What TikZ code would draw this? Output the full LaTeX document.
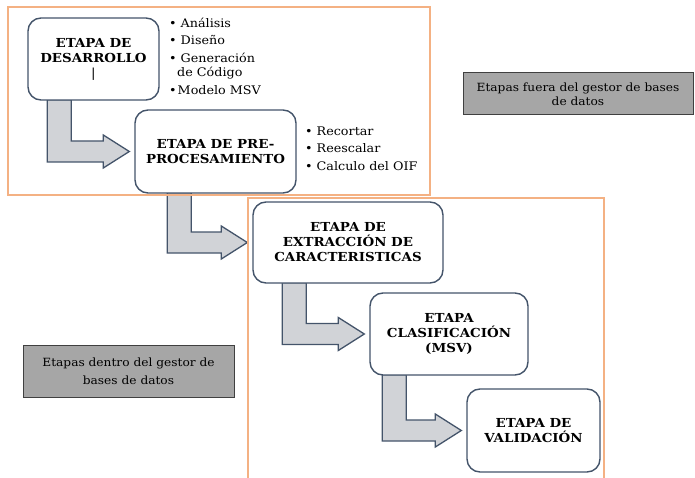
\documentclass[tikz,border=0pt]{standalone}
\usepackage{fontspec}
\setmainfont{DejaVu Serif}[FakeStretch=1.08]
\usetikzlibrary{calc,backgrounds}
\definecolor{frameor}{HTML}{F4B183}
\definecolor{boxln}{HTML}{44546A}
\definecolor{arrfill}{HTML}{D1D3D7}
\definecolor{grayfill}{HTML}{A6A6A6}
\definecolor{grayln}{HTML}{404040}
\tikzset{
  stage/.style={draw=boxln, line width=1.4pt, rounded corners=13pt, fill=white,
    font=\bfseries\fontsize{12.4}{15}\selectfont, align=center, inner sep=0pt},
  frame/.style={draw=frameor, line width=1.6pt},
  arrblock/.style={draw=boxln, line width=1.3pt, fill=arrfill, line join=miter},
  note/.style={draw=grayln, line width=1pt, fill=grayfill, align=center, inner sep=0pt},
  item/.style={anchor=west, inner sep=0pt, font=\fontsize{11.8}{13}\selectfont},
}
\newcommand\bentarrow[3]{%
  \draw[arrblock] let \p1=($(#1.south west)+(#3,0)$), \p2=($(#2.west)+(-5,0)$) in
  (\x1,\y1+1pt) -- (\x1+24pt,\y1+1pt) -- (\x1+24pt,\y2+10.5pt) -- (\x2-26pt,\y2+10.5pt)
  -- (\x2-26pt,\y2+16.5pt) -- (\x2,\y2) -- (\x2-26pt,\y2-16.5pt) -- (\x2-26pt,\y2-10.5pt)
  -- (\x1,\y2-10.5pt) -- cycle;}
\begin{document}
\begin{tikzpicture}[x=1pt,y=-1pt]
\useasboundingbox (0,0) rectangle (695,478);
% boxes
\node[stage, minimum width=131pt, minimum height=82pt] (b1) at (93.5,59) {ETAPA DE\\DESARROLLO\\\textnormal{|}};
\node[stage, minimum width=161pt, minimum height=83pt] (b2) at (215.5,151.5) {ETAPA DE PRE-\\PROCESAMIENTO};
\node[stage, minimum width=190pt, minimum height=81pt] (b3) at (348,242.5) {ETAPA DE\\EXTRACCIÓN DE\\CARACTERISTICAS};
\node[stage, minimum width=158pt, minimum height=82pt] (b4) at (449,334) {ETAPA\\CLASIFICACIÓN\\(MSV)};
\node[stage, minimum width=133pt, minimum height=83pt] (b5) at (533.5,430.5) {ETAPA DE\\VALIDACIÓN};
% bent arrows and frames behind the boxes
\begin{scope}[on background layer]
\bentarrow{b1}{b2}{20}
\bentarrow{b2}{b3}{33}
\bentarrow{b3}{b4}{30}
\bentarrow{b4}{b5}{13}
\draw[frame] (8,7) rectangle (430,195);
\draw[frame] (248,479) -- (248,198) -- (604,198) -- (604,479);
\end{scope}
% bullet lists
\node[item] (i1) at (169,23) {•\hspace{4pt}Análisis};
\node[item] (i2) at (169,40) {•\hspace{4pt}Diseño};
\node[item] (i3) at (169,58) {•\hspace{4pt}Generación};
\node[item] (i4) at (177,73) {de Código};
\node[item] (i5) at (169,90) {•\hspace{1pt}Modelo MSV};
\node[item] (j1) at (305,131) {•\hspace{4pt}Recortar};
\node[item] (j2) at (305,148) {•\hspace{4pt}Reescalar};
\node[item] (j3) at (305,166) {•\hspace{4pt}Calculo del OIF};
% notes
\node[note, minimum width=230pt, minimum height=42pt, font=\fontsize{11.3}{14}\selectfont] (n1) at (578,94) {Etapas fuera del gestor de bases\\de datos};
\node[note, minimum width=211pt, minimum height=52pt, font=\fontsize{11.3}{18}\selectfont] (n2) at (128.5,371) {Etapas dentro del gestor de\\bases de datos};
\end{tikzpicture}
\end{document}
